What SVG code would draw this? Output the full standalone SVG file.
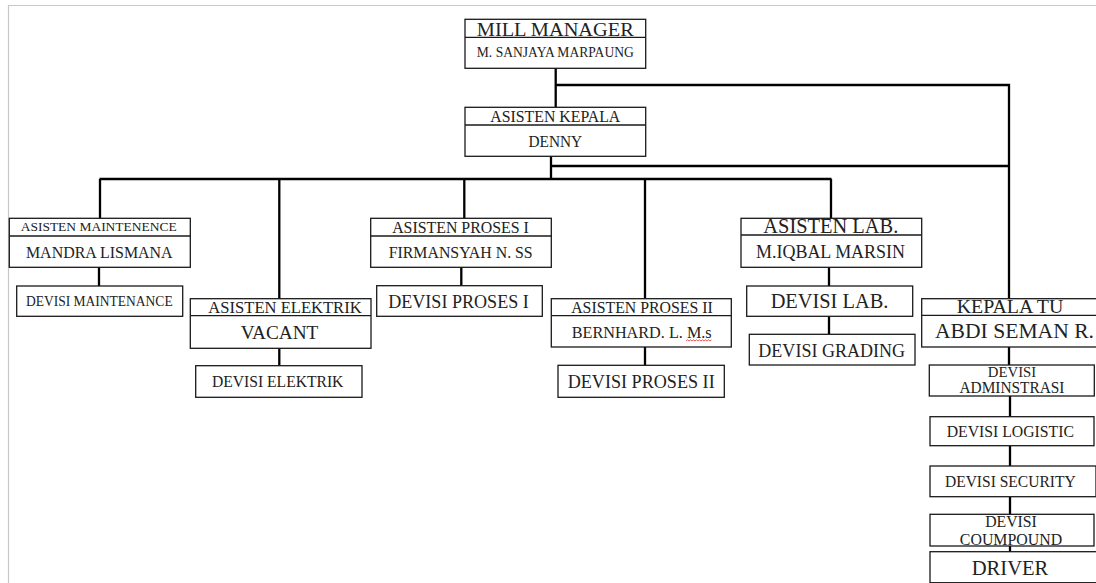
<svg xmlns="http://www.w3.org/2000/svg" width="1096" height="583" viewBox="0 0 1096 583">
<style>
.b{fill:#fff;stroke:#1a1a1a;stroke-width:1.3}
.d{stroke:#1a1a1a;stroke-width:1.3}
.c{fill:none;stroke:#000;stroke-width:2.3}
text{font-family:"Liberation Serif","Times New Roman",serif;fill:#222;text-anchor:middle}
</style>
<rect width="1096" height="583" fill="#fff"/>
<path d="M8.5 583V5.5H1096" fill="none" stroke="#c8c8c8" stroke-width="1.2"/>
<g id="connectors">
<path class="c" d="M555.7 68V107M555.7 85H1009V299"/>
<path class="c" d="M551 156V179M551 166H1009"/>
<path class="c" d="M99.5 179H831.5M100 179V218M279.3 179V299M464.3 179V218M645 179V299M831 179V218"/>
<path class="c" d="M99 267V286M279.3 348V366M461.3 267V286M645 347V365M829 267V286M829 316V334"/>
<path class="c" d="M1009 347V365M1010 396V417M1010 446V466M1010 497V514M1010 546V552"/>
</g>
<g id="mill-manager"><rect class="b" x="465" y="19.3" width="180.7" height="49"/><line class="d" x1="465" y1="37.3" x2="645.7" y2="37.3"/>
<text x="555.3" y="36" font-size="19.5" textLength="157" lengthAdjust="spacingAndGlyphs">MILL MANAGER</text><text x="555.3" y="57.3" font-size="13.8" textLength="157" lengthAdjust="spacingAndGlyphs">M. SANJAYA MARPAUNG</text></g>
<g id="asisten-kepala"><rect class="b" x="465" y="107.3" width="180.7" height="49"/><line class="d" x1="465" y1="125" x2="645.7" y2="125"/>
<text x="555.3" y="121.7" font-size="15.8" textLength="130" lengthAdjust="spacingAndGlyphs">ASISTEN KEPALA</text><text x="555.3" y="146.7" font-size="15.8" textLength="53.7" lengthAdjust="spacingAndGlyphs">DENNY</text></g>
<g id="asisten-maintenence"><rect class="b" x="9.3" y="218.3" width="181" height="49"/><line class="d" x1="9.3" y1="236" x2="190.3" y2="236"/>
<text x="98.7" y="230.7" font-size="13.5" textLength="156" lengthAdjust="spacingAndGlyphs">ASISTEN MAINTENENCE</text><text x="99.3" y="258.3" font-size="16.5" textLength="146.7" lengthAdjust="spacingAndGlyphs">MANDRA LISMANA</text></g>
<g id="devisi-maintenance"><rect class="b" x="16.7" y="286" width="166" height="30.3"/>
<text x="99.3" y="306" font-size="14" textLength="146.7" lengthAdjust="spacingAndGlyphs">DEVISI MAINTENANCE</text></g>
<g id="asisten-elektrik"><rect class="b" x="190.3" y="298.7" width="180.7" height="49.6"/><line class="d" x1="190.3" y1="315.7" x2="371" y2="315.7"/>
<text x="285" y="313.3" font-size="16.8" textLength="153.3" lengthAdjust="spacingAndGlyphs">ASISTEN ELEKTRIK</text><text x="279.5" y="339.3" font-size="19.2" textLength="77.7" lengthAdjust="spacingAndGlyphs">VACANT</text></g>
<g id="devisi-elektrik"><rect class="b" x="195.7" y="365.7" width="166.3" height="31.6"/>
<text x="277.7" y="386.7" font-size="16" textLength="131.3" lengthAdjust="spacingAndGlyphs">DEVISI ELEKTRIK</text></g>
<g id="asisten-proses-1"><rect class="b" x="370.7" y="218.3" width="180.6" height="49"/><line class="d" x1="370.7" y1="236" x2="551.3" y2="236"/>
<text x="460.5" y="233.3" font-size="16.2" textLength="136.7" lengthAdjust="spacingAndGlyphs">ASISTEN PROSES I</text><text x="460.7" y="258.3" font-size="16.2" textLength="144" lengthAdjust="spacingAndGlyphs">FIRMANSYAH N. SS</text></g>
<g id="devisi-proses-1"><rect class="b" x="376.7" y="285.7" width="165.6" height="30.6"/>
<text x="458.5" y="308.3" font-size="18.5" textLength="140.7" lengthAdjust="spacingAndGlyphs">DEVISI PROSES I</text></g>
<g id="asisten-proses-2"><rect class="b" x="551.3" y="298.7" width="180" height="48.3"/><line class="d" x1="551.3" y1="315.7" x2="731.3" y2="315.7"/>
<text x="642" y="313.3" font-size="16.2" textLength="141.7" lengthAdjust="spacingAndGlyphs">ASISTEN PROSES II</text><text x="641.7" y="338.3" font-size="16.5" textLength="140" lengthAdjust="spacingAndGlyphs">BERNHARD. L. M.s</text>
<path d="M686 341l1.5 -1.2 1.5 1.2 1.5 -1.2 1.5 1.2 1.5 -1.2 1.5 1.2 1.5 -1.2 1.5 1.2 1.5 -1.2 1.5 1.2 1.5 -1.2 1.5 1.2 1.5 -1.2 1.5 1.2 1.5 -1.2 1.5 1.2 1.5 -1.2" fill="none" stroke="#e03030" stroke-width="0.8"/></g>
<g id="devisi-proses-2"><rect class="b" x="558" y="365.3" width="166.3" height="32"/>
<text x="641.2" y="387.7" font-size="18.5" textLength="147" lengthAdjust="spacingAndGlyphs">DEVISI PROSES II</text></g>
<g id="asisten-lab"><rect class="b" x="741" y="218.3" width="180.7" height="49"/><line class="d" x1="741" y1="235" x2="921.7" y2="235"/>
<text x="830.8" y="233.3" font-size="20.8" textLength="135" lengthAdjust="spacingAndGlyphs">ASISTEN LAB.</text><text x="830.5" y="258.3" font-size="18.3" textLength="149" lengthAdjust="spacingAndGlyphs">M.IQBAL MARSIN</text></g>
<g id="devisi-lab"><rect class="b" x="746.7" y="286" width="166" height="30.3"/>
<text x="829.5" y="308.3" font-size="20.8" textLength="117.7" lengthAdjust="spacingAndGlyphs">DEVISI LAB.</text></g>
<g id="devisi-grading"><rect class="b" x="749.3" y="334.3" width="165.7" height="30.7"/>
<text x="831.7" y="356.7" font-size="18.5" textLength="146.7" lengthAdjust="spacingAndGlyphs">DEVISI GRADING</text></g>
<g id="kepala-tu"><rect class="b" x="921.7" y="298.7" width="178" height="48.3"/><line class="d" x1="921.7" y1="315.3" x2="1096" y2="315.3"/>
<text x="1010" y="313.3" font-size="19.8" textLength="106.7" lengthAdjust="spacingAndGlyphs">KEPALA TU</text><text x="1014.5" y="338.3" font-size="22" textLength="159" lengthAdjust="spacingAndGlyphs">ABDI SEMAN R.</text></g>
<g id="devisi-adminstrasi"><rect class="b" x="929.3" y="365" width="165" height="31"/>
<text x="1012" y="377" font-size="15.3" textLength="48.3" lengthAdjust="spacingAndGlyphs">DEVISI</text><text x="1012" y="393" font-size="15.8" textLength="105" lengthAdjust="spacingAndGlyphs">ADMINSTRASI</text></g>
<g id="devisi-logistic"><rect class="b" x="930" y="416.7" width="164" height="29"/>
<text x="1010.3" y="436.7" font-size="16" textLength="127.3" lengthAdjust="spacingAndGlyphs">DEVISI LOGISTIC</text></g>
<g id="devisi-security"><rect class="b" x="930" y="466" width="166" height="30.7"/>
<text x="1010.3" y="486.7" font-size="16" textLength="130.7" lengthAdjust="spacingAndGlyphs">DEVISI SECURITY</text></g>
<g id="devisi-coumpound"><rect class="b" x="930" y="514.3" width="164" height="31.7"/>
<text x="1011" y="526.7" font-size="16.2" textLength="51.7" lengthAdjust="spacingAndGlyphs">DEVISI</text><text x="1011" y="545" font-size="16.2" textLength="102.3" lengthAdjust="spacingAndGlyphs">COUMPOUND</text></g>
<g id="driver"><rect class="b" x="930" y="551.7" width="168" height="31"/>
<text x="1010" y="575" font-size="21" textLength="76.7" lengthAdjust="spacingAndGlyphs">DRIVER</text></g>
</svg>
